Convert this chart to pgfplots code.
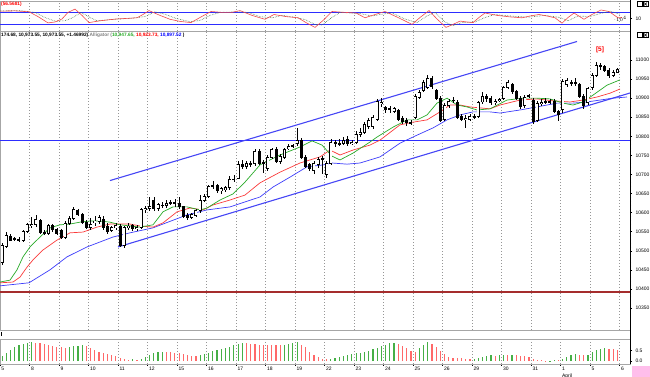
\documentclass[border=0pt]{standalone}
\usepackage{pgfplots}
\pgfplotsset{compat=1.18}
\usepackage{pgfplotstable}
\usepackage{fontspec}
\setmainfont{Liberation Sans}
\definecolor{lips}{RGB}{40,170,40}
\definecolor{teeth}{RGB}{250,60,60}
\definecolor{jaw}{RGB}{60,60,250}
\definecolor{chan}{RGB}{70,70,245}
\definecolor{hblue}{RGB}{45,45,255}
\definecolor{hred}{RGB}{165,45,45}
\definecolor{hgreen}{RGB}{70,175,70}
\definecolor{hpink}{RGB}{255,105,105}
\definecolor{osc}{RGB}{240,75,75}
\definecolor{sig}{RGB}{70,120,70}
\definecolor{gridc}{RGB}{150,150,150}
\definecolor{pinkbox}{RGB}{255,190,235}
\newcommand\tf{\fontsize{5}{6}\selectfont}
\newcommand\hf{\fontsize{4.8}{5.5}\selectfont\bfseries}
\pgfplotsset{panel/.style={scale only axis, width=630pt, xmin=0, xmax=630,
  axis line style={gray!70, line width=0.5pt},
  xtick={0,29.5,...,620}, xticklabels={}, xtick style={draw=none},
  xmajorgrids, grid style={gridc, line width=0.6pt, dash pattern=on 0.6pt off 2.4pt},
  tick align=outside, major tick length=2pt, minor tick length=1pt}}

\pgfplotstableread{
o h l c
10470 10520 10462 10515
10512 10548 10508 10540
10538 10545 10525 10528
10532 10536 10525 10530
10530 10535 10524 10527
10526 10555 10522 10550
10550 10572 10546 10568
10565 10588 10560 10568
10568 10595 10562 10582
10580 10584 10545 10548
10548 10555 10540 10545
10545 10570 10542 10565
10565 10570 10550 10555
10555 10560 10540 10545
10552 10558 10530 10535
10535 10578 10532 10572
10572 10590 10568 10585
10585 10615 10580 10608
10605 10610 10590 10595
10596 10600 10570 10575
10575 10580 10558 10562
10562 10585 10555 10570
10575 10592 10565 10578
10578 10595 10570 10588
10582 10590 10555 10560
10565 10572 10545 10550
10552 10565 10548 10560
10560 10572 10555 10567
10565 10570 10510 10515
10515 10565 10508 10560
10560 10572 10555 10565
10566 10570 10552 10558
10558 10568 10552 10562
10562 10612 10558 10608
10608 10618 10600 10612
10612 10640 10605 10615
10632 10640 10605 10610
10610 10625 10605 10620
10620 10628 10612 10618
10618 10632 10612 10625
10625 10632 10620 10626
10626 10636 10615 10625
10625 10640 10610 10615
10615 10618 10585 10590
10592 10598 10580 10588
10588 10600 10582 10595
10592 10610 10588 10606
10605 10645 10600 10632
10632 10650 10628 10642
10642 10672 10638 10668
10668 10682 10662 10670
10670 10675 10652 10658
10658 10668 10650 10662
10660 10670 10655 10665
10665 10695 10660 10688
10688 10698 10680 10686
10690 10735 10688 10725
10725 10738 10715 10722
10722 10735 10715 10728
10728 10735 10720 10725
10728 10768 10722 10760
10760 10768 10725 10730
10730 10738 10705 10732
10715 10752 10710 10745
10745 10770 10740 10765
10765 10772 10730 10735
10735 10755 10728 10748
10745 10770 10740 10765
10768 10780 10765 10772
10774 10780 10770 10776
10780 10822 10775 10790
10790 10795 10740 10745
10745 10750 10718 10722
10725 10730 10710 10715
10710 10735 10700 10730
10725 10745 10718 10740
10740 10748 10700 10742
10700 10735 10692 10730
10730 10792 10725 10785
10783 10790 10772 10780
10780 10792 10775 10782
10782 10798 10778 10790
10792 10800 10775 10780
10782 10790 10778 10785
10785 10815 10780 10805
10805 10822 10798 10810
10810 10838 10805 10830
10825 10848 10820 10842
10825 10855 10820 10850
10845 10898 10840 10892
10885 10900 10878 10888
10875 10880 10862 10870
10870 10880 10862 10872
10866 10878 10860 10872
10868 10872 10840 10845
10848 10852 10832 10838
10842 10848 10828 10835
10835 10842 10830 10836
10850 10910 10845 10905
10902 10922 10898 10915
10920 10948 10915 10942
10928 10960 10925 10952
10952 10958 10925 10930
10920 10925 10895 10900
10900 10905 10838 10842
10845 10888 10840 10882
10880 10898 10875 10892
10893 10902 10888 10895
10890 10895 10845 10850
10852 10858 10840 10845
10845 10855 10822 10848
10845 10858 10840 10852
10852 10858 10845 10850
10852 10892 10848 10888
10890 10915 10885 10905
10905 10912 10890 10900
10900 10905 10882 10888
10888 10898 10882 10892
10893 10900 10890 10896
10900 10932 10896 10928
10928 10948 10925 10940
10935 10940 10912 10918
10918 10922 10895 10900
10900 10905 10872 10878
10880 10908 10875 10902
10905 10912 10900 10907
10895 10900 10832 10840
10842 10892 10838 10885
10885 10898 10880 10888
10890 10900 10885 10892
10892 10897 10885 10890
10892 10898 10860 10865
10865 10868 10840 10856
10870 10950 10862 10945
10935 10952 10930 10945
10942 10948 10932 10938
10938 10952 10932 10940
10935 10940 10900 10905
10905 10910 10872 10880
10888 10930 10882 10925
10928 10965 10922 10960
10960 10995 10955 10985
10985 10992 10975 10982
10982 10988 10968 10972
10972 10978 10952 10960
10960 10975 10955 10968
10968 10978 10965 10974
}\candles

\pgfplotstableread{
v g
0.25 1
0.38 1
0.52 1
0.65 1
0.75 1
0.80 1
0.84 1
0.88 1
0.87 0
0.85 0
0.80 0
0.76 0
0.72 0
0.68 0
0.66 0
0.64 0
0.66 1
0.70 1
0.72 1
0.74 1
0.70 0
0.60 0
0.52 0
0.45 0
0.40 0
0.35 0
0.30 0
0.22 0
0.14 0
0.09 0
0.07 0
0.08 1
0.05 0
0.12 1
0.20 1
0.30 1
0.38 1
0.42 1
0.44 1
0.43 0
0.42 0
0.40 0
0.36 0
0.32 0
0.28 0
0.25 0
0.24 0
0.28 1
0.33 1
0.40 1
0.48 1
0.52 1
0.55 1
0.60 1
0.68 1
0.75 1
0.82 1
0.86 1
0.84 0
0.82 0
0.80 0
0.78 0
0.77 0
0.76 0
0.75 0
0.75 0
0.74 0
0.76 1
0.80 1
0.84 1
0.88 1
0.78 0
0.65 0
0.45 0
0.30 0
0.18 0
0.12 0
0.10 0
0.12 1
0.15 1
0.20 1
0.25 1
0.30 1
0.33 1
0.36 1
0.40 1
0.45 1
0.50 1
0.56 1
0.62 1
0.70 1
0.78 1
0.84 1
0.86 1
0.80 0
0.70 0
0.60 0
0.50 0
0.45 0
0.60 1
0.75 1
0.88 1
0.80 0
0.65 0
0.50 0
0.32 0
0.20 0
0.15 0
0.15 0
0.14 0
0.10 0
0.08 0
0.08 1
0.15 1
0.20 1
0.25 1
0.27 1
0.25 0
0.27 1
0.30 1
0.28 0
0.30 1
0.28 0
0.26 0
0.24 0
0.20 0
0.12 0
0.06 0
0.03 0
0.02 0
0.02 1
0.03 1
0.04 0
0.10 1
0.18 1
0.28 1
0.35 1
0.30 0
0.27 0
0.30 1
0.42 1
0.52 1
0.58 1
0.60 1
0.58 0
0.55 0
0.52 0
}\hist

\begin{document}
\begin{tikzpicture}
\path[use as bounding box] (0pt,0pt) rectangle (650pt,377pt);

% ---------- top oscillator panel
\begin{axis}[panel, at={(0pt,346pt)}, anchor=south west, height=30pt,
  ymin=0, ymax=100, ytick={42}, yticklabels={10},
  ytick pos=right, yticklabel pos=right,
  yticklabel style={font=\tf}, ytick style={black, line width=0.4pt}]
\addplot[hblue, line width=1pt] coordinates {(0,60) (630,60)};
\addplot[hblue, line width=1pt] coordinates {(0,20) (630,20)};
\addplot[sig, densely dotted, line width=0.6pt] coordinates {
(0,67)(20,68)(35,62)(45,45)(55,33)(65,34)(73,45)(81,62)(90,45)(97,34)(110,38)(130,42)(145,48)(155,64)(165,56)(176,42)(190,31)(200,35)(210,52)(220,62)(238,64)(248,62)(260,48)(272,44)(282,52)(295,46)(305,38)(315,22)(322,20)(332,45)(340,62)(360,58)(372,50)(382,56)(392,60)(405,40)(417,28)(427,50)(435,62)(445,30)(453,18)(462,28)(475,30)(485,45)(495,55)(510,50)(528,46)(545,52)(560,45)(568,34)(578,50)(590,48)(600,58)(610,66)(620,56)};
\addplot[osc, line width=0.6pt] coordinates {
(0,66)(15,67)(29,64)(38,48)(48,27)(55,30)(62,40)(68,62)(75,73)(82,52)(89,28)(100,34)(116,40)(127,42)(137,44)(143,55)(149,68)(160,52)(170,39)(180,32)(191,28)(200,45)(211,65)(222,62)(232,62)(240,68)(252,52)(265,39)(274,55)(286,48)(298,44)(306,28)(315,12)(324,38)(332,65)(345,62)(356,60)(365,44)(375,55)(385,65)(398,45)(412,22)(420,45)(429,68)(437,40)(446,12)(453,22)(460,33)(467,30)(473,28)(479,45)(485,60)(497,52)(510,47)(522,44)(530,50)(539,55)(547,50)(555,44)(562,26)(568,45)(574,60)(584,39)(592,55)(601,70)(609,65)(618,44)(622,45)};
\end{axis}

% ---------- main price panel
\begin{axis}[panel, at={(0pt,47pt)}, anchor=south west, height=299pt,
  ymin=10292.3, ymax=11076,
  ytick={10350,10400,...,11000},
  yticklabels={10350,10400,10450,10500,10550,10600,10650,10700,10750,10800,10850,10900,10950,11000},
  minor y tick num=4,
  ytick pos=right, yticklabel pos=right,
  ytick style={black, line width=0.4pt},
  yticklabel style={font=\tf}]
\addplot[hred, line width=1.8pt] coordinates {(0,10391) (630,10391)};
\addplot[hblue, line width=1pt] coordinates {(0,10790) (630,10790)};
\addplot[chan, line width=1.1pt] coordinates {(110,10684) (577,11048.5)};
\addplot[chan, line width=1.1pt] coordinates {(118,10510) (630,10913.5)};
\addplot[jaw, line width=0.7pt] coordinates {
(0,10408)(29,10416)(50,10450)(67,10484)(87,10510)(100,10523)(113,10536)(130,10547)(153,10560)(187,10594)(207,10607)(230,10615)(245,10628)(260,10641)(273,10667)(290,10693)(307,10720)(323,10725)(332,10730)(347,10727)(360,10730)(380,10746)(400,10782)(417,10803)(433,10822)(447,10843)(460,10856)(473,10864)(490,10864)(500,10861)(520,10869)(537,10877)(557,10887)(573,10887)(587,10890)(600,10895)(613,10900)(627,10903)};
\addplot[teeth, line width=0.7pt] coordinates {
(0,10416)(13,10418)(20,10431)(27,10457)(33,10476)(43,10502)(57,10528)(70,10547)(83,10549)(97,10562)(110,10570)(130,10570)(140,10565)(153,10562)(163,10573)(177,10602)(190,10612)(203,10607)(213,10620)(230,10633)(245,10646)(260,10678)(280,10706)(300,10730)(320,10746)(330,10764)(340,10751)(353,10764)(370,10777)(380,10790)(400,10830)(413,10837)(427,10843)(440,10864)(450,10882)(460,10882)(470,10877)(490,10872)(500,10882)(520,10895)(537,10898)(553,10893)(570,10890)(583,10895)(597,10903)(610,10913)(620,10924)};
\addplot[lips, line width=0.7pt] coordinates {
(0,10418)(10,10423)(17,10450)(23,10484)(30,10510)(40,10536)(50,10560)(60,10568)(70,10570)(80,10575)(90,10578)(100,10578)(110,10575)(120,10568)(140,10562)(153,10568)(163,10602)(173,10615)(187,10615)(200,10607)(207,10612)(220,10633)(233,10649)(245,10680)(260,10725)(280,10751)(300,10772)(312,10788)(322,10777)(332,10748)(340,10738)(353,10756)(370,10785)(377,10798)(393,10824)(407,10843)(417,10843)(427,10856)(437,10887)(447,10900)(457,10882)(467,10877)(477,10869)(490,10872)(507,10895)(523,10900)(537,10900)(550,10898)(563,10887)(573,10882)(583,10890)(593,10908)(607,10934)(620,10948)};
% wicks
\addplot[draw=none, mark=none, error bars/.cd, y dir=both, y explicit, error mark=none,
  error bar style={draw=black, line width=0.6pt, line cap=butt}]
  table[x expr={\coordindex*4.2143+2.107}, y expr={(\thisrow{h}+\thisrow{l})/2},
        y error expr={(\thisrow{h}-\thisrow{l})/2}] {\candles};
% bodies (outline / black)
\addplot[draw=none, mark=none, error bars/.cd, y dir=both, y explicit, error mark=none,
  error bar style={draw=black, line width=3pt, line cap=butt}]
  table[x expr={\coordindex*4.2143+2.107}, y expr={(\thisrow{o}+\thisrow{c})/2},
        y error expr={abs(\thisrow{c}-\thisrow{o})/2+1.3}] {\candles};
% white interior of rising candles
\addplot[draw=none, mark=none, error bars/.cd, y dir=both, y explicit, error mark=none,
  error bar style={draw=white, line width=1.8pt, line cap=butt}]
  table[x expr={\coordindex*4.2143+2.107}, y expr={(\thisrow{o}+\thisrow{c})/2},
        y error expr={max((\thisrow{c}-\thisrow{o})/2-1.3,0)}] {\candles};
\end{axis}

% ---------- bottom histogram panel
\begin{axis}[panel, at={(0pt,13pt)}, anchor=south west, height=25pt,
  ymin=-0.136, ymax=1.045,
  xticklabels={5,8,9,10,11,12,15,16,17,18,19,22,23,24,25,26,29,30,31,{\shortstack[l]{1\\April}},5,6},
  xtick style={draw=black, line width=0.4pt}, xtick pos=left, minor x tick num=6,
  minor x tick style={draw=black, line width=0.3pt},
  xticklabel style={font=\tf, anchor=north west, xshift=0.3pt, inner sep=1pt},
  ytick={0,0.5}, yticklabels={0.0,0.5}, ytick pos=right, yticklabel pos=right,
  yticklabel style={font=\tf}, ytick style={black, line width=0.4pt}]
\addplot[ycomb, hgreen, line width=1.2pt]
  table[x expr={\coordindex*4.2143+2.107}, y expr={\thisrow{v}*\thisrow{g}}] {\hist};
\addplot[ycomb, hpink, line width=1.2pt]
  table[x expr={\coordindex*4.2143+2.107}, y expr={\thisrow{v}*(1-\thisrow{g})}] {\hist};
\end{axis}

% ---------- text and decorations
\draw[black, line width=0.6pt] (630pt,13pt) -- (630pt,377pt);
\node[anchor=west, inner sep=0pt, font=\hf, text=red] at (1pt,373pt) {(56.5681)};
\node[anchor=west, inner sep=0pt, font=\hf] at (1pt,342pt)
  {174.68, 10,973.55, 10,973.55, +1.46992) \textcolor{gray}{Alligator (}\textcolor{lips}{10,947.65,} \textcolor{red}{10,923.73,} \textcolor{blue}{10,897.52} )};
\node[inner sep=0pt, font=\fontsize{6.5}{7}\selectfont\bfseries, text=red] at (600pt,327pt) {[5]};
\fill[pinkbox] (632pt,0pt) rectangle (650pt,11pt);
\draw[black, line width=0.4pt] (1.5pt,41pt) -- (1.5pt,45pt);
\foreach \yy in {370.5,339.5}{
  \draw[black, line width=0.4pt] (637pt,\yy pt) rectangle (642pt,\yy pt+5pt);
  \draw[black, line width=0.4pt] (643pt,\yy pt) rectangle (648pt,\yy pt+5pt);
  \draw[black, line width=0.5pt] (644pt,\yy pt+1pt) -- (647pt,\yy pt+4pt) (644pt,\yy pt+4pt) -- (647pt,\yy pt+1pt);
}
\end{tikzpicture}
\end{document}
